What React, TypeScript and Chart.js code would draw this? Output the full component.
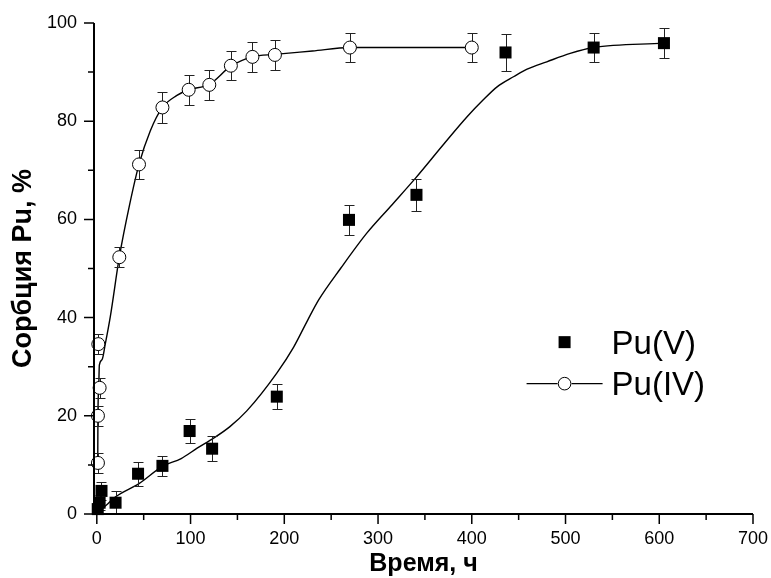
import React, { useEffect, useRef } from "react";
import { Chart, registerables } from "chart.js";

Chart.register(...registerables);

const FONT = '"Liberation Sans", Arial, sans-serif';

// Pu(IV) measured points (time h, sorption %, error %)
const puIVTime = [1.2, 1.2, 3, 1.6, 24, 45, 70, 98, 120, 143, 166, 190, 270, 400];
const puIVSorption = [10.4, 20.0, 25.7, 34.6, 52.3, 71.2, 82.8, 86.4, 87.4, 91.3, 93.1, 93.5, 95.0, 95.0];
const puIVError = [2, 2, 2, 2, 2, 3, 3.2, 3, 3, 3, 3, 3, 3, 3];

// Pu(V) measured points
const puVTime = [1, 3, 5, 20, 44, 70, 99, 123, 192, 269, 341, 436, 530, 605];
const puVSorption = [1.0, 2.3, 4.7, 2.3, 8.2, 9.8, 16.9, 13.3, 23.9, 59.9, 65.0, 94.0, 95.0, 95.9];
const puVError = [1, 1.5, 1.8, 2.4, 2.4, 2.1, 2.5, 2.5, 2.5, 3, 3.2, 3.8, 3, 3];

// Fitted curves
const puIVFitTime = [1, 1.2, 2, 2.7, 5.5, 9, 14.4, 24, 35, 45, 57, 70, 85, 98, 120, 143, 166, 190, 230, 270, 335, 400];
const puIVFitValue = [10.4, 20, 25.5, 30.3, 31.4, 34.6, 40.2, 52.3, 63, 71.2, 78, 82.8, 85.2, 86.4, 87.5, 91.2, 93.1, 93.6, 94.3, 95, 95, 95];

const puVFitTime = [2, 10, 20, 45, 70, 90, 107, 125, 142, 160, 192, 210, 225, 237, 260, 288, 315, 340, 370, 395, 412, 427, 445, 459, 480, 505, 530, 605];
const puVFitValue = [0.5, 1.8, 3.5, 6.2, 9.7, 11.3, 13.4, 15.5, 17.8, 21, 28.7, 34, 39.5, 43.7, 50, 57.2, 63, 68.4, 75.3, 80.9, 84.3, 87.0, 89.1, 90.6, 92.1, 93.8, 95.0, 95.9];

// Axes
const xLabelTicks = [0, 100, 200, 300, 400, 500, 600, 700];
const xTickMarks = [0, 50, 100, 150, 200, 250, 300, 350, 400, 450, 500, 550, 600, 650, 700];
const yLabelTicks = [0, 20, 40, 60, 80, 100];
const yTickMarks = [0, 10, 20, 30, 40, 50, 60, 70, 80, 90, 100];

const legendLabels = ["Pu(V)", "Pu(IV)"];

const toPoints = (xs: number[], ys: number[]) => xs.map((x, i) => ({ x, y: ys[i] }));

const customPlugin = {
  id: "custom",
  beforeDatasetDraw(chart: any, args: any) {
    const ds = chart.data.datasets[args.index];
    if (!ds.errors) return;
    const xs = chart.scales.x;
    const ys = chart.scales.y;
    const ctx = chart.ctx;
    const area = chart.chartArea;
    ctx.save();
    ctx.beginPath();
    ctx.rect(area.left - 10, area.top - 10, area.right - area.left + 20, area.bottom - area.top + 10);
    ctx.clip();
    ctx.strokeStyle = "#222";
    ctx.lineWidth = 1;
    ds.data.forEach((p: any, i: number) => {
      const e = ds.errors[i];
      const px = Math.round(xs.getPixelForValue(p.x)) + 0.5;
      const top = Math.round(ys.getPixelForValue(p.y + e)) + 0.5;
      const bot = Math.round(ys.getPixelForValue(p.y - e)) + 0.5;
      ctx.beginPath();
      ctx.moveTo(px, top);
      ctx.lineTo(px, bot);
      ctx.moveTo(px - 5, top);
      ctx.lineTo(px + 5, top);
      ctx.moveTo(px - 5, bot);
      ctx.lineTo(px + 5, bot);
      ctx.stroke();
    });
    ctx.restore();
  },
  afterDraw(chart: any) {
    const ctx = chart.ctx;
    const area = chart.chartArea;
    const xs = chart.scales.x;
    const ys = chart.scales.y;
    ctx.save();
    ctx.strokeStyle = "#000";
    // axis lines
    ctx.lineWidth = 2;
    ctx.beginPath();
    ctx.moveTo(area.left, area.top);
    ctx.lineTo(area.left, area.bottom);
    ctx.lineTo(area.right, area.bottom);
    ctx.stroke();
    // ticks
    ctx.lineWidth = 1.5;
    ctx.beginPath();
    yTickMarks.forEach((v) => {
      const y = ys.getPixelForValue(v);
      const len = yLabelTicks.includes(v) ? 10 : 6;
      ctx.moveTo(area.left, y);
      ctx.lineTo(area.left - len, y);
    });
    xTickMarks.forEach((v) => {
      const x = xs.getPixelForValue(v);
      const len = xLabelTicks.includes(v) ? 10 : 6;
      ctx.moveTo(x, area.bottom);
      ctx.lineTo(x, area.bottom + len);
    });
    ctx.stroke();

    // legend
    const lx = xs.getPixelForValue(499);
    const ly1 = ys.getPixelForValue(35);
    const ly2 = ly1 + 41.5;
    ctx.fillStyle = "#000";
    ctx.fillRect(lx - 6, ly1 - 6, 12, 12);
    ctx.lineWidth = 1.2;
    ctx.beginPath();
    ctx.moveTo(lx - 38, ly2);
    ctx.lineTo(lx - 7, ly2);
    ctx.moveTo(lx + 7, ly2);
    ctx.lineTo(lx + 38, ly2);
    ctx.stroke();
    ctx.beginPath();
    ctx.arc(lx, ly2, 6.3, 0, Math.PI * 2);
    ctx.fillStyle = "#fff";
    ctx.fill();
    ctx.lineWidth = 1;
    ctx.stroke();
    ctx.fillStyle = "#000";
    ctx.font = `33px ${FONT}`;
    ctx.textAlign = "left";
    ctx.textBaseline = "alphabetic";
    ctx.fillText(legendLabels[0], lx + 47, ly1 + 11.5);
    ctx.fillText(legendLabels[1], lx + 47, ly2 + 11);
    ctx.restore();
  },
};

export default function App() {
  const ref = useRef<HTMLCanvasElement>(null);
  useEffect(() => {
    const chart = new Chart(ref.current as HTMLCanvasElement, {
      type: "scatter",
      data: {
        datasets: [
          {
            label: legendLabels[1],
            data: toPoints(puIVTime, puIVSorption),
            errors: puIVError,
            pointStyle: "circle",
            pointRadius: 6.5,
            pointBackgroundColor: "#fff",
            pointBorderColor: "#000",
            pointBorderWidth: 1,
            showLine: false,
            clip: false,
          } as any,
          {
            label: legendLabels[0],
            data: toPoints(puVTime, puVSorption),
            errors: puVError,
            pointStyle: "rect",
            pointRadius: 8.5,
            pointBackgroundColor: "#000",
            pointBorderColor: "#000",
            pointBorderWidth: 0,
            showLine: false,
            clip: false,
          } as any,
          {
            label: "fit IV",
            data: toPoints(puIVFitTime, puIVFitValue),
            showLine: true,
            borderColor: "#000",
            borderWidth: 1.4,
            pointRadius: 0,
            cubicInterpolationMode: "monotone",
            clip: false,
          } as any,
          {
            label: "fit V",
            data: toPoints(puVFitTime, puVFitValue),
            showLine: true,
            borderColor: "#000",
            borderWidth: 1.4,
            pointRadius: 0,
            cubicInterpolationMode: "monotone",
            clip: false,
          } as any,
        ],
      },
      options: {
        animation: false,
        responsive: false,
        devicePixelRatio: 1,
        layout: { padding: { top: 23, right: 18, left: 0, bottom: 0 } },
        plugins: { legend: { display: false }, tooltip: { enabled: false } },
        scales: {
          x: {
            type: "linear",
            min: -3,
            max: 700,
            grid: { display: false, drawTicks: false },
            border: { display: false },
            ticks: { padding: 14, color: "#000", font: { family: FONT, size: 18 }, maxRotation: 0, autoSkip: false },
            afterBuildTicks: (s: any) => {
              s.ticks = xLabelTicks.map((value) => ({ value }));
            },
            afterFit: (s: any) => {
              s.height = 64;
              s.paddingLeft = 0;
              s.paddingRight = 0;
              s.paddingTop = 0;
              s.paddingBottom = 0;
            },
            title: {
              display: true,
              text: "Время, ч",
              color: "#000",
              font: { family: FONT, size: 25, weight: "bold", lineHeight: 1 },
              padding: { top: 0, bottom: 1 },
            },
          },
          y: {
            type: "linear",
            min: 0,
            max: 100,
            grid: { display: false, drawTicks: false },
            border: { display: false },
            ticks: { padding: 17, color: "#000", font: { family: FONT, size: 18 }, autoSkip: false },
            afterBuildTicks: (s: any) => {
              s.ticks = yLabelTicks.map((value) => ({ value }));
            },
            afterFit: (s: any) => {
              s.width = 94;
              s.paddingLeft = 0;
              s.paddingRight = 0;
              s.paddingTop = 0;
              s.paddingBottom = 0;
            },
            title: {
              display: true,
              text: "Сорбция Pu, %",
              color: "#000",
              font: { family: FONT, size: 27, weight: "bold", lineHeight: 1 },
              padding: { top: 10, bottom: 0 },
            },
          },
        },
      } as any,
      plugins: [customPlugin as any],
    });
    return () => chart.destroy();
  }, []);
  return (
    <div style={{ position: "fixed", left: 0, top: 0, width: 771, height: 578, background: "#fff" }}>
      <canvas ref={ref} width={771} height={578} style={{ display: "block", width: 771, height: 578 }} />
    </div>
  );
}
